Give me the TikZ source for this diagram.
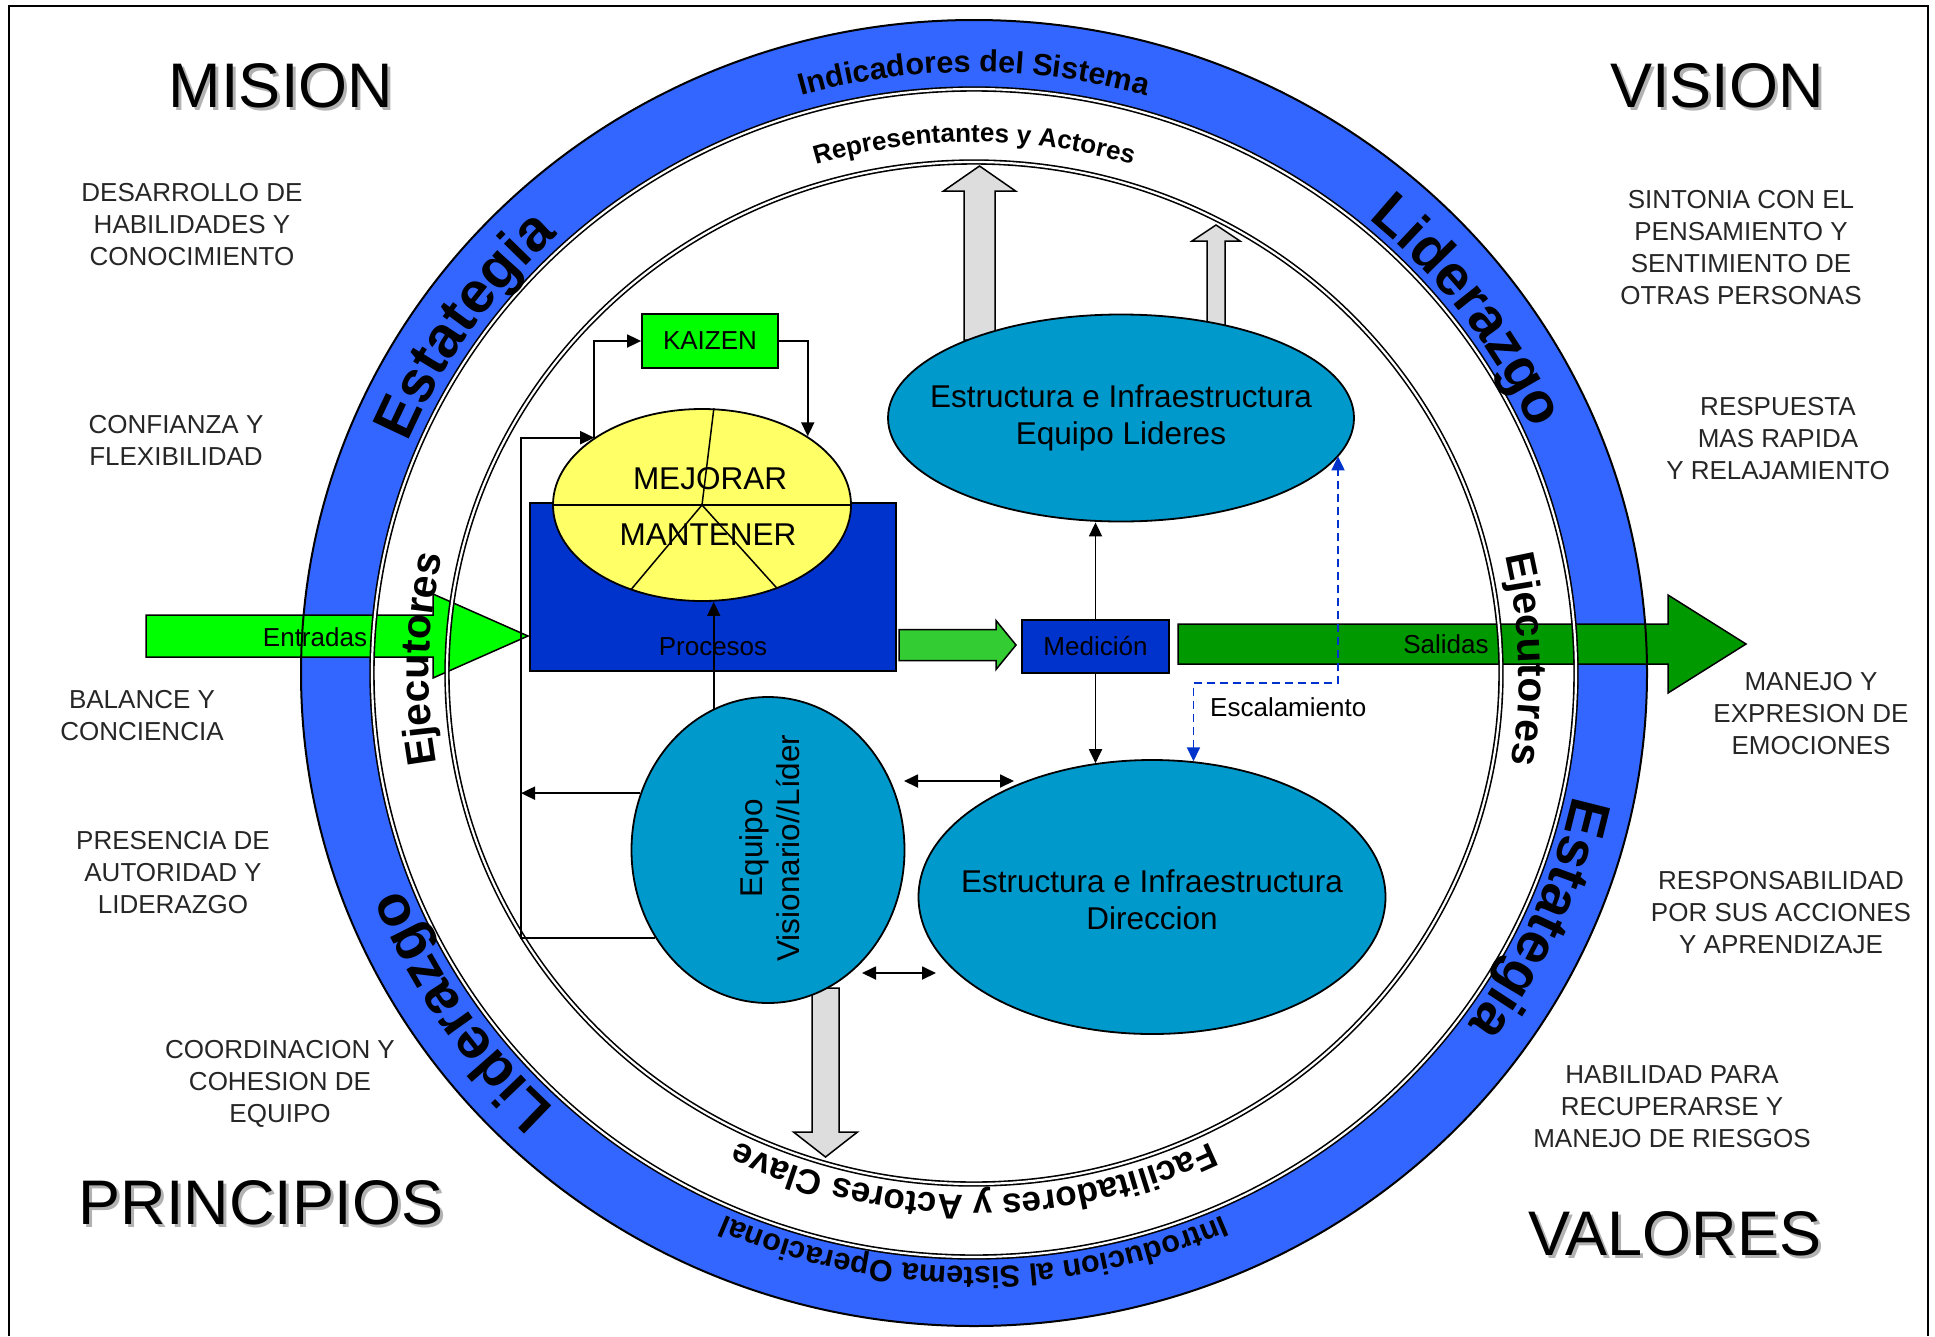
\documentclass[tikz,border=0pt]{standalone}
\usepackage{fontspec}
\setmainfont{Liberation Sans}
\usepackage{tikz}
\usetikzlibrary{shapes.geometric,arrows.meta,decorations.text}

\definecolor{bandblue}{HTML}{3366FF}
\definecolor{procblue}{HTML}{0033CC}
\definecolor{mejyellow}{HTML}{FFFF66}
\definecolor{kaigreen}{HTML}{00FF00}
\definecolor{midgreen}{HTML}{33CC33}
\definecolor{salgreen}{HTML}{009900}
\definecolor{tealc}{HTML}{0099CC}
\definecolor{arrgray}{HTML}{DDDDDD}

\newcommand\harrow[7][]{\draw[#1] (#2,{#5+#6}) -- (#3,{#5+#6}) -- (#3,{#5+#7}) -- (#4,#5) -- (#3,{#5-#7}) -- (#3,{#5-#6}) -- (#2,{#5-#6}) -- cycle;}
\newcommand\varrow[7][]{\draw[#1] ({#5-#6},#2) -- ({#5-#6},#3) -- ({#5-#7},#3) -- (#5,#4) -- ({#5+#7},#3) -- ({#5+#6},#3) -- ({#5+#6},#2) -- cycle;}
\newcommand\ringtext[6]{\path[decorate,decoration={text along path,text align=center,
   text={|\fontsize{#5}{#5}\selectfont\bfseries|#6}}] (ctr) ++(#1:#3 and #4)
   arc[start angle=#1,end angle=#2,x radius=#3,y radius=#4];}

\begin{document}
\begin{tikzpicture}[x=1pt,y=1pt,
  arr/.style={-{Triangle[length=14pt,width=13pt]},line width=1.8pt},
  darr/.style={{Triangle[length=14pt,width=13pt]}-{Triangle[length=14pt,width=13pt]},line width=1.8pt},
  dasharr/.style={darr,draw=procblue,dash pattern=on 8pt off 5pt},
  blockarr/.style={draw,line width=1.5pt},
  ringline/.style={draw,line width=1.6pt,double=white,double distance=2.2pt},
  sidetxt/.style={align=center,font=\fontsize{26}{32}\selectfont,text=black!85,inner sep=0},
  bigtitle/.style={font=\fontsize{63}{70}\selectfont,inner sep=0},
  titleshadow/.style={bigtitle,text=black!30},
  boxtxt/.style={font=\fontsize{26}{32}\selectfont,inner sep=0},
  elltxt/.style={align=center,font=\fontsize{31.5}{37}\selectfont,inner sep=0},
  tealell/.style={ellipse,draw,line width=1.8pt,fill=tealc,inner sep=0},
  rectbox/.style={rectangle,draw,line width=1.8pt,inner sep=0}]
\useasboundingbox (0,0) rectangle (1935,-1336);
\draw[line width=1.5pt] (9,-1336) -- (9,-6) -- (1928,-6) -- (1928,-1336);

\node[titleshadow] (misionsh) at (284,-89) {MISION};
\node[bigtitle] (mision) at (281,-86) {MISION};
\node[titleshadow] (visionsh) at (1720,-89) {VISION};
\node[bigtitle] (vision) at (1717,-86) {VISION};
\node[titleshadow] (principiossh) at (264,-1206) {PRINCIPIOS};
\node[bigtitle] (principios) at (261,-1203) {PRINCIPIOS};
\node[titleshadow] (valoressh) at (1678,-1237) {VALORES};
\node[bigtitle] (valores) at (1675,-1234) {VALORES};

\foreach \nm/\x/\y/\txt in {
  desarrollo/192/225/{DESARROLLO DE\\HABILIDADES Y\\CONOCIMIENTO},
  confianza/176/440/{CONFIANZA Y\\FLEXIBILIDAD},
  balance/142/716/{BALANCE Y\\CONCIENCIA},
  presencia/173/873/{PRESENCIA DE\\AUTORIDAD Y\\LIDERAZGO},
  coordinacion/280/1084/{COORDINACION Y\\COHESION DE\\EQUIPO},
  sintonia/1741/248/{SINTONIA CON EL\\PENSAMIENTO Y\\SENTIMIENTO DE\\OTRAS PERSONAS},
  respuesta/1778/439/{RESPUESTA\\MAS RAPIDA\\Y RELAJAMIENTO},
  manejo/1811/714/{MANEJO Y\\EXPRESION DE\\EMOCIONES},
  responsabilidad/1781/913/{RESPONSABILIDAD\\POR SUS ACCIONES\\Y APRENDIZAJE},
  habilidad/1672/1107/{HABILIDAD PARA\\RECUPERARSE Y\\MANEJO DE RIESGOS}} {
   \node[sidetxt] (\nm) at (\x,-\y) {\txt};
}

\coordinate (ctr) at (974,-673);
\fill[bandblue] (ctr) ellipse[x radius=673,y radius=653];
\fill[white] (ctr) ellipse[x radius=602,y radius=584];

\varrow[blockarr,fill=arrgray]{-340}{-191}{-166}{979.5}{15.5}{36}
\varrow[blockarr,fill=arrgray]{-340}{-241}{-225}{1216}{9}{24}
\varrow[blockarr,fill=arrgray]{-988}{-1132}{-1157}{825.5}{13.5}{32}
\harrow[blockarr,fill=kaigreen]{146}{433}{528}{-636}{21}{42}
\harrow[blockarr,fill=salgreen]{1178}{1668}{1746}{-644}{20}{49}
\harrow[blockarr,fill=midgreen]{899}{996}{1016}{-645}{15.5}{24.5}

\draw[line width=2pt] (ctr) ellipse[x radius=673,y radius=653];
\draw[ringline] (ctr) ellipse[x radius=602,y radius=584];
\draw[ringline] (ctr) ellipse[x radius=527,y radius=511];

\ringtext{120}{60}{619}{601}{30.5}{Indicadores del Sistema}
\ringtext{120}{60}{547}{531}{26}{Representantes y Actores}
\ringtext{165}{125}{614}{596}{58}{Estategia}
\ringtext{57}{17}{612}{594}{57}{Liderazgo}
\ringtext{198.5}{158.5}{545}{529}{41}{Ejecutores}
\ringtext{21.5}{-18.5}{545}{529}{41}{Ejecutores}
\ringtext{234}{194}{614}{596}{57}{Liderazgo}
\ringtext{356}{316}{612}{594}{57}{Estategia}
\ringtext{300}{240}{538}{522}{35}{Facilitadores y Actores Clave}
\ringtext{300}{240}{612}{594}{30.5}{Introducion al Sistema Operacional}

\node[boxtxt] (entradas) at (315,-637) {Entradas};
\node[boxtxt] (salidas) at (1446,-644) {Salidas};

\node[rectbox,fill=procblue,minimum width=366,minimum height=168] (procesos) at (713,-587) {};
\node[boxtxt] (procesostxt) at (713,-647) {Procesos};
\node[ellipse,draw,line width=1.8pt,fill=mejyellow,inner sep=0,minimum width=298,minimum height=192] (mejorar) at (702,-505) {};
\draw[line width=1.5pt] (mejorar.west) -- (mejorar.east);
\draw[line width=1.5pt] (mejorar.center) -- (mejorar.83);
\draw[line width=1.5pt] (mejorar.center) -- (mejorar.230);
\draw[line width=1.5pt] (mejorar.center) -- (mejorar.312);
\node[elltxt] (mejorartxt) at (710,-478.5) {MEJORAR};
\node[elltxt] (mantenertxt) at (708,-535) {MANTENER};
\node[rectbox,fill=kaigreen,minimum width=136,minimum height=54,font=\fontsize{26}{32}\selectfont] (kaizen) at (710,-341) {KAIZEN};

\node[tealell,minimum width=466,minimum height=207] (lideres) at (1121,-418) {};
\node[elltxt] (liderestxt) at (lideres.center) {Estructura e Infraestructura\\Equipo Lideres};
\node[tealell,minimum width=467,minimum height=274] (direccion) at (1152,-897) {};
\node[elltxt] (direcciontxt) at (1152,-900) {Estructura e Infraestructura\\Direccion};
\node[tealell,minimum width=273,minimum height=306] (equipo) at (768,-850) {};
\node[elltxt,rotate=90] (equipotxt) at (770,-848) {Equipo\\Visionario//Líder};
\node[rectbox,fill=procblue,minimum width=147,minimum height=53,font=\fontsize{26}{32}\selectfont] (medicion) at (1095.5,-646.5) {Medición};
\node[boxtxt,anchor=west] (escalamiento) at (1210,-707) {Escalamiento};

\coordinate (fbl) at (521,-442);
\coordinate (esc) at (1338,-683);
\coordinate (da1) at (904,-781);
\coordinate (da2) at (1014,-781);
\coordinate (db1) at (862,-973);
\coordinate (db2) at (936,-973);

\draw[arr] (mejorar.148) |- (kaizen.west);
\draw[arr] (kaizen.east) -| (mejorar.33);
\draw[arr] (equipo.218) -- (equipo.218 -| fbl) |- (mejorar.148);
\draw[arr] (equipo.156) -- (equipo.156 -| fbl);
\draw[arr] (equipo.111) -- (equipo.111 |- mejorar.south);
\draw[arr] (medicion.north) -- (medicion.north |- lideres.south);
\draw[arr] (medicion.south) -- (medicion.south |- direccion.113);
\draw[dasharr] (direccion.73) |- (esc) -- (esc |- lideres.350);
\draw[darr] (da1) -- (da2);
\draw[darr] (db1) -- (db2);
\end{tikzpicture}
\end{document}
